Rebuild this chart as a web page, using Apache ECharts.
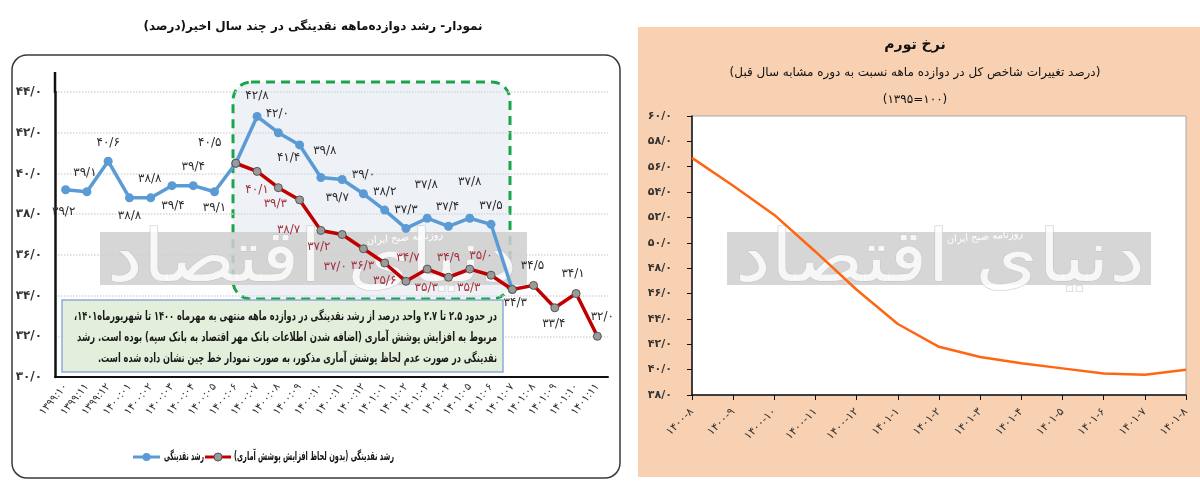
<!DOCTYPE html>
<html><head><meta charset="utf-8">
<script src="https://cdn.jsdelivr.net/npm/echarts@6/dist/echarts.min.js"></script>
<style>html,body{margin:0;padding:0;background:#fff;}#c{width:1200px;height:488px;}</style>
</head><body><div id="c"></div>
<script>
// ---------- data: left chart (liquidity growth) ----------
const leftCategories = ['۱۳۹۹:۱۰','۱۳۹۹:۱۱','۱۳۹۹:۱۲','۱۴۰۰:۰۱','۱۴۰۰:۰۲','۱۴۰۰:۰۳','۱۴۰۰:۰۴','۱۴۰۰:۰۵','۱۴۰۰:۰۶','۱۴۰۰:۰۷','۱۴۰۰:۰۸','۱۴۰۰:۰۹','۱۴۰۰:۱۰','۱۴۰۰:۱۱','۱۴۰۰:۱۲','۱۴۰۱:۰۱','۱۴۰۱:۰۲','۱۴۰۱:۰۳','۱۴۰۱:۰۴','۱۴۰۱:۰۵','۱۴۰۱:۰۶','۱۴۰۱:۰۷','۱۴۰۱:۰۸','۱۴۰۱:۰۹','۱۴۰۱:۱۰','۱۴۰۱:۱۱'];
const liquidityGrowth = [39.2,39.1,40.6,38.8,38.8,39.4,39.4,39.1,40.5,42.8,42.0,41.4,39.8,39.7,39.0,38.2,37.3,37.8,37.4,37.8,37.5,34.3,null,null,null,null];
const liquidityGrowthAdjusted = [null,null,null,null,null,null,null,null,40.5,40.1,39.3,38.7,37.2,37.0,36.3,35.6,34.7,35.3,34.9,35.3,35.0,34.3,34.5,33.4,34.1,32.0];
const leftYTicks = {min:30, max:44, step:2};

// ---------- data: right chart (inflation) ----------
const rightCategories = ['۱۴۰۰-۸','۱۴۰۰-۹','۱۴۰۰-۱۰','۱۴۰۰-۱۱','۱۴۰۰-۱۲','۱۴۰۱-۱','۱۴۰۱-۲','۱۴۰۱-۳','۱۴۰۱-۴','۱۴۰۱-۵','۱۴۰۱-۶','۱۴۰۱-۷','۱۴۰۱-۸'];
const inflation = [56.7,54.5,52.2,49.3,46.3,43.6,41.8,41.0,40.5,40.1,39.7,39.6,40.0];
const rightYTicks = {min:38, max:60, step:2};

// ---------- label placement (style only): [side, dx, dy] ----------
const blueLabelStyle = [['b',-2,7],['t',-2,-3],['t',0,-3],['b',0,3],['t',-1,-3],['b',1,5],['t',0,-3],['b',0,1],
  ['t',-26,-5],['t',0,-5],['t',-1,-3],['b',-11,-3],['t',4,-11],['b',-5,3],['t',0,-3],['t',0,-3],['t',0,-3],
  ['t',-1,-18],['t',-1,-4],['t',0,-21],['t',0,-3],['n']];
const redLabelStyle = [['n'],['n'],['n'],['n'],['n'],['n'],['n'],['n'],['n'],
  ['b',0,3],['b',-3,1],['b',-11,14],['b',-2,1],['b',-7,17],['b',-1,2],['b',0,2],['t',2,-8],['b',-1,3],['t',0,-4],
  ['b',-1,3],['t',-10,-4],['b',3,-2],['t',-1,-4],['b',-1,1],['t',-3,-4],['t',5,-4]];

const RLM = '\u200F';
const PD = '۰۱۲۳۴۵۶۷۸۹';
const fa = s => String(s).replace(/\d/g, d => PD[d]);
const fmt = v => fa(Number(v).toFixed(1)).replace('.', '/');
const FONT = 'DejaVu Sans';
const mctx = document.createElement('canvas').getContext('2d');
function fitScale(text, font, target){ mctx.font = font; return target / mctx.measureText(text).width; }

function labelFor(st, color){
  if (!st || st[0] === 'n') return {show:false};
  return {show:true, position: st[0]==='t' ? 'top' : 'bottom', offset:[st[1], st[2]],
          color:color, fontSize:12, fontFamily:FONT, formatter:p=>fmt(p.value)};
}

const blueName = 'رشد نقدینگی';
const redName = 'رشد نقدینگی (بدون لحاظ افزایش پوشش آماری)';

const blueData = liquidityGrowth.map((v,i)=> v==null ? null : {value:v, label:labelFor(blueLabelStyle[i], '#2b2b2b')});
const redData = liquidityGrowthAdjusted.map((v,i)=> v==null ? null : {value:v, label:labelFor(redLabelStyle[i], i>=21 ? '#2b2b2b' : '#a5303f')});

const chart = echarts.init(document.getElementById('c'), null, {renderer:'canvas'});

const noteLines = [
  'در حدود ۲.۵ تا ۲.۷ واحد درصد از رشد نقدینگی در دوازده ماهه منتهی به مهرماه ۱۴۰۰ تا شهریورماه۱۴۰۱،',
  'مربوط به افزایش پوشش آماری (اضافه شدن اطلاعات بانک مهر اقتصاد به بانک سپه) بوده است. رشد',
  'نقدینگی در صورت عدم لحاظ پوشش آماری مذکور، به صورت نمودار خط چین نشان داده شده است.'
];
const noteWidths = [423, 420, 399];
const NOTE_FONT = 'bold 12.5px "DejaVu Sans"';

const WM_FONT = '72px "DejaVu Sans"';
const wmText = 'دنیای اقتصاد';
const wmScale = fitScale(wmText, WM_FONT, 410);

const LEG_FONT = 'bold 12px "DejaVu Sans"';
const redLeg = RLM + redName + RLM;

const graphics = [
  {type:'rect', z:-10, shape:{x:638,y:27,width:562,height:450}, style:{fill:'#f8d1b2'}},
  {type:'text', z:50, x:313, y:27, style:{text:RLM+'نمودار- رشد دوازده‌ماهه نقدینگی در چند سال اخیر(درصد)'+RLM, fill:'#111', font:'bold 12px "DejaVu Sans"', align:'center', verticalAlign:'middle'}},
  {type:'text', z:50, x:915, y:45, style:{text:'نرخ تورم', fill:'#111', font:'bold 14px "DejaVu Sans"', align:'center', verticalAlign:'middle'}},
  {type:'text', z:50, x:915, y:73, style:{text:RLM+'(درصد تغییرات شاخص کل در دوازده ماهه نسبت به دوره مشابه سال قبل)'+RLM, fill:'#111', font:'12px "DejaVu Sans"', align:'center', verticalAlign:'middle'}},
  {type:'text', z:50, x:915, y:100, style:{text:'(۱۳۹۵=۱۰۰)', fill:'#111', font:'12px "DejaVu Sans"', align:'center', verticalAlign:'middle'}},
  {type:'rect', z:0, shape:{x:233,y:82,width:277,height:217,r:18}, style:{fill:'#eef2f7', stroke:'#19a54a', lineWidth:3, lineDash:[9,6]}},
  {type:'rect', z:1, shape:{x:100,y:232,width:427,height:53}, style:{fill:'#cfcfcf', opacity:0.85}},
  {type:'rect', z:1, shape:{x:727,y:232,width:424,height:53}, style:{fill:'#cfcfcf', opacity:0.85}},
  {type:'text', z:1, x:312, y:262, scaleX:wmScale, style:{text:wmText, fill:'#ffffff', stroke:'#c0c0c0', lineWidth:1, opacity:0.8, font:WM_FONT, align:'center', verticalAlign:'middle'}},
  {type:'text', z:1, x:940, y:262, scaleX:wmScale, style:{text:wmText, fill:'#ffffff', stroke:'#c0c0c0', lineWidth:1, opacity:0.8, font:WM_FONT, align:'center', verticalAlign:'middle'}},
  {type:'text', z:1, x:405, y:238, rotation:0.08, style:{text:'روزنامه صبح ایران', fill:'#ffffff', font:'10px "DejaVu Sans"', align:'center', verticalAlign:'middle'}},
  {type:'text', z:1, x:985, y:237, rotation:0.08, style:{text:'روزنامه صبح ایران', fill:'#ffffff', font:'10px "DejaVu Sans"', align:'center', verticalAlign:'middle'}},
  {type:'line', z:20, shape:{x1:55,y1:72,x2:55,y2:93}, style:{stroke:'#111', lineWidth:2.5}},
  {type:'rect', z:30, shape:{x:62,y:300,width:441,height:72}, style:{fill:'#e3efda', stroke:'#8eaadb', lineWidth:1.5}},
  {type:'rect', z:60, shape:{x:12,y:55,width:608,height:423,r:15}, style:{fill:'none', stroke:'#3a3a3a', lineWidth:1.5}},
  // legend (custom, scaled to the reference widths)
  {type:'line', z:50, shape:{x1:133,y1:457,x2:160,y2:457}, style:{stroke:'#5b9bd5', lineWidth:3}},
  {type:'circle', z:51, shape:{cx:146.5,cy:457,r:4}, style:{fill:'#5b9bd5'}},
  {type:'text', z:50, x:164, y:457, scaleX:fitScale(blueName, LEG_FONT, 40), style:{text:blueName, fill:'#111', font:LEG_FONT, align:'left', verticalAlign:'middle'}},
  {type:'line', z:50, shape:{x1:205,y1:457,x2:231,y2:457}, style:{stroke:'#c00000', lineWidth:3}},
  {type:'circle', z:51, shape:{cx:218,cy:457,r:4}, style:{fill:'#9a9a9a', stroke:'#555', lineWidth:1}},
  {type:'text', z:50, x:234, y:457, scaleX:fitScale(redLeg, LEG_FONT, 160), style:{text:redLeg, fill:'#111', font:LEG_FONT, align:'left', verticalAlign:'middle'}}
];
noteLines.forEach((t,i)=>{
  const s = RLM + t + RLM;
  graphics.push({type:'text', z:31, x:497, y:317 + i*21, scaleX:fitScale(s, NOTE_FONT, noteWidths[i]),
    style:{text:s, fill:'#1a1a1a', font:NOTE_FONT, align:'right', verticalAlign:'middle'}});
});

const option = {
  animation:false,
  backgroundColor:'#ffffff',
  textStyle:{fontFamily:FONT},
  grid:[
    {left:55, right:592, top:92, bottom:111, show:false},
    {left:692, right:14, top:116, bottom:93, show:true, backgroundColor:'#ffffff', borderColor:'#a8a8a8', borderWidth:1, z:0}
  ],
  xAxis:[
    {type:'category', gridIndex:0, data:leftCategories, boundaryGap:true,
     axisLine:{lineStyle:{color:'#111', width:2}}, axisTick:{show:false},
     axisLabel:{rotate:50, interval:0, fontSize:10.5, color:'#333', margin:8, fontFamily:FONT}},
    {type:'category', gridIndex:1, data:rightCategories, boundaryGap:false,
     axisLine:{lineStyle:{color:'#111', width:1.5}}, axisTick:{show:true, length:5, lineStyle:{color:'#111'}},
     axisLabel:{rotate:45, interval:0, fontSize:11, color:'#333', margin:15, fontFamily:FONT}}
  ],
  yAxis:[
    {type:'value', gridIndex:0, min:leftYTicks.min, max:leftYTicks.max, interval:leftYTicks.step,
     axisLine:{show:true, lineStyle:{color:'#111', width:2.5}}, axisTick:{show:false},
     axisLabel:{formatter:v=>fmt(v), fontSize:12, fontWeight:'bold', color:'#333', margin:13, fontFamily:FONT},
     splitLine:{show:true, lineStyle:{color:'#d8d8d8', type:'dotted', width:1.5}}},
    {type:'value', gridIndex:1, min:rightYTicks.min, max:rightYTicks.max, interval:rightYTicks.step,
     axisLine:{show:true, lineStyle:{color:'#111', width:1.5}}, axisTick:{show:true, length:5, lineStyle:{color:'#111'}},
     axisLabel:{formatter:v=>fmt(v), fontSize:11, fontWeight:'bold', color:'#333', margin:20, fontFamily:FONT},
     splitLine:{show:false}}
  ],
  series:[
    {name:blueName, type:'line', xAxisIndex:0, yAxisIndex:0, data:blueData, z:5,
     lineStyle:{color:'#5b9bd5', width:3.5}, itemStyle:{color:'#5b9bd5'}, symbol:'circle', symbolSize:9},
    {name:redName, type:'line', xAxisIndex:0, yAxisIndex:0, data:redData, z:6,
     lineStyle:{color:'#c00000', width:3.5}, itemStyle:{color:'#9a9a9a', borderColor:'#555', borderWidth:1}, symbol:'circle', symbolSize:8},
    {name:'تورم', type:'line', xAxisIndex:1, yAxisIndex:1, data:inflation, z:5,
     lineStyle:{color:'#ff6612', width:2.5}, itemStyle:{color:'#ff6612'}, symbol:'none'}
  ],
  graphic:graphics
};
chart.setOption(option);
</script>
</body></html>
